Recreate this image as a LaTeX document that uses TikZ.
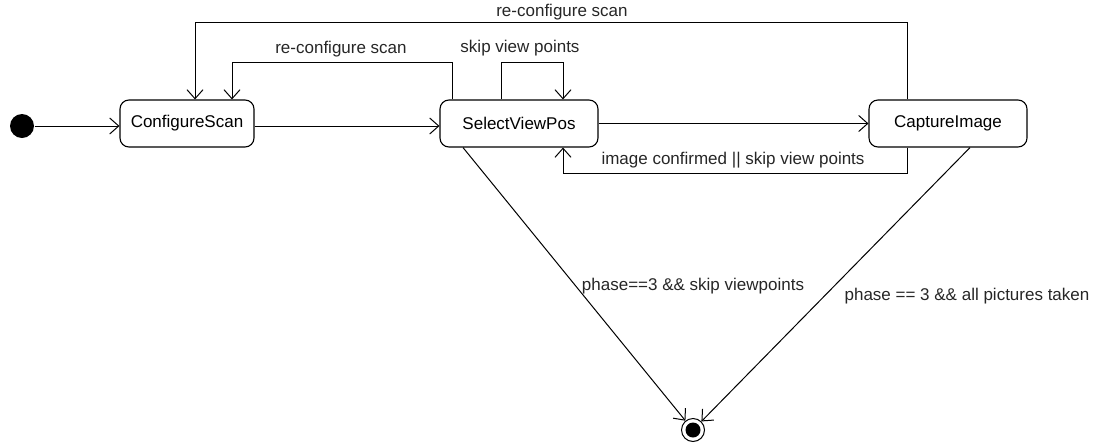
\documentclass[tikz,border=0pt]{standalone}
\usepackage{fontspec}
\setmainfont{Liberation Sans}
\usetikzlibrary{arrows.meta}
\begin{document}
\begin{tikzpicture}[x=1pt,y=-1pt,
  line width=1pt,
  every node/.style={font=\fontsize{17}{20}\selectfont},
  state/.style={draw, rounded corners=9pt, minimum height=47pt, inner sep=0pt, line width=1.1pt},
  tr/.style={-{Straight Barb[length=9pt,width=16pt,line width=1pt]}},
  lbl/.style={inner sep=0pt, text=black!85}
]
\useasboundingbox (0,0) rectangle (1097,445);
\node[circle, fill=black, minimum size=24pt, inner sep=0pt] (init) at (22,126) {};
\node[state, minimum width=134pt] (cs) at (187,123.5) {ConfigureScan};
\node[state, minimum width=158pt] (sv) at (519,123.5) {SelectViewPos};
\node[state, minimum width=158pt] (ci) at (948,123.5) {CaptureImage};
\node[circle, draw, line width=1pt, minimum size=23pt, inner sep=0pt] (fin) at (693,430) {};
\node[circle, fill=black, minimum size=15pt, inner sep=0pt] (finc) at (fin) {};

\draw[tr] (init) -- (init -| cs.west);
\draw[tr] (cs.east |- 0,126) -- (sv.west |- 0,126);
\draw[tr] (sv.east) -- (ci.west);

% outer reconfigure loop
\draw[tr] (ci.north -| 907,0) -- (907,22) -- (195,22) -- (cs.north -| 195,0);
\node[lbl] (l1) at (562,12) {re-configure scan};
% inner reconfigure loop
\draw[tr] (sv.north -| 452,0) -- (452,62) -- (232,62) -- (cs.north -| 232,0);
\node[lbl] (l2) at (341,49) {re-configure scan};
% self loop
\draw[tr] (sv.north -| 501,0) -- (501,62) -- (563,62) -- (sv.north -| 563,0);
\node[lbl] (l3) at (520,48) {skip view points};
% back from capture
\draw[tr] (ci.south -| 907,0) -- (907,173) -- (563,173) -- (sv.south -| 563,0);
\node[lbl] (l4) at (733,160) {image confirmed || skip view points};
% to final
\draw[tr] (sv.south -| 463,0) -- (fin);
\node[lbl] (l5) at (693,286) {phase==3 \&\& skip viewpoints};
\draw[tr] (ci.south -| 970,0) -- (fin);
\node[lbl] (l6) at (967,296) {phase == 3 \&\& all pictures taken};
\end{tikzpicture}
\end{document}
